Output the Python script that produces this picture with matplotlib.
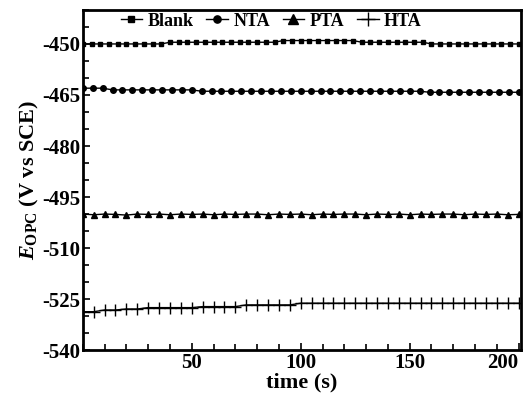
import numpy as np
import matplotlib
matplotlib.use("Agg")
from matplotlib import pyplot as plt
from matplotlib.ticker import MultipleLocator, FixedLocator

plt.rcParams['font.family'] = ['Liberation Serif', 'DejaVu Serif']
plt.rcParams['font.weight'] = 'bold'
plt.rcParams['axes.unicode_minus'] = False
plt.rcParams['mathtext.fontset'] = 'custom'
plt.rcParams['mathtext.rm'] = 'Liberation Serif:bold'
plt.rcParams['mathtext.it'] = 'Liberation Serif:italic:bold'

# (mV vs SCE)
t_blank = np.arange(0, 201, 4)
blank = ([-450.0] * 10 + [-449.5] * 13 + [-449.0] * 9 + [-449.5] * 8 + [-450.0] * 11)

t_nta = np.arange(0, 201, 200 / 44)
nta = ([-463.0] * 3 + [-463.5] * 9 + [-463.9] * 23 + [-464.2] * 10)

t_pta = np.arange(0, 201, 5)
pta = [-500.0, -500.2, -500.0, -500.1, -500.3, -500.0, -500.1, -500.0, -500.2, -500.0,
       -500.1, -500.0, -500.2, -500.0, -500.1, -500.0, -500.0, -500.2, -500.0, -500.1,
       -500.0, -500.2, -500.0, -500.1, -500.0, -500.0, -500.2, -500.0, -500.1, -500.0,
       -500.2, -500.0, -500.1, -500.0, -500.0, -500.2, -500.0, -500.1, -500.0, -500.2, -500.1]

t_hta = np.arange(0, 201, 5)
hta = ([-528.7, -528.7, -528.2, -528.2, -527.9, -527.9, -527.5, -527.5, -527.5, -527.5,
        -527.5, -527.2, -527.2, -527.2, -527.2, -526.7, -526.7, -526.7, -526.7, -526.7]
       + [-526.2] * 21)

fig = plt.figure(figsize=(5.24, 3.97), dpi=100)
ax = fig.add_axes([0.158, 0.118, 0.836, 0.857])

ax.plot(t_blank, blank, color='black', lw=1, marker='s', ms=3.5, label='Blank')
ax.plot(t_nta, nta, color='black', lw=1, marker='o', ms=4, label='NTA')
ax.plot(t_pta, pta, color='black', lw=1, marker='^', ms=5, label='PTA')
ax.plot(t_hta, hta, color='black', lw=1, marker='+', ms=8, mew=1, label='HTA')

ax.set_xlim(0, 201)
ax.set_ylim(-540, -440)
ax.xaxis.set_major_locator(FixedLocator([50, 100, 150, 200]))
ax.xaxis.set_minor_locator(MultipleLocator(10))
ax.yaxis.set_major_locator(FixedLocator([-540, -525, -510, -495, -480, -465, -450]))
ax.yaxis.set_minor_locator(MultipleLocator(5))
ax.tick_params(which='both', direction='in', width=1.2, labelsize=15)
ax.tick_params(which='major', length=5, pad=2)
ax.tick_params(which='minor', length=4)
for s in ax.spines.values():
    s.set_linewidth(2)
fig.canvas.draw()
ax.get_xticklabels()[-1].set_horizontalalignment('right')

ax.set_xlabel('time (s)', fontsize=16, fontweight='bold', labelpad=0)
ax.set_ylabel(r'$\mathit{E}_{\mathrm{OPC}}$ (V vs SCE)', fontsize=16, fontweight='bold', labelpad=1)

ax.legend(loc='upper center', bbox_to_anchor=(0.43, 1.04), ncol=4, frameon=False,
          handlelength=1.2, handletextpad=0.3, columnspacing=0.7, markerscale=1.3,
          prop={'weight': 'bold', 'size': 13})

fig.savefig('out.png', dpi=100)
